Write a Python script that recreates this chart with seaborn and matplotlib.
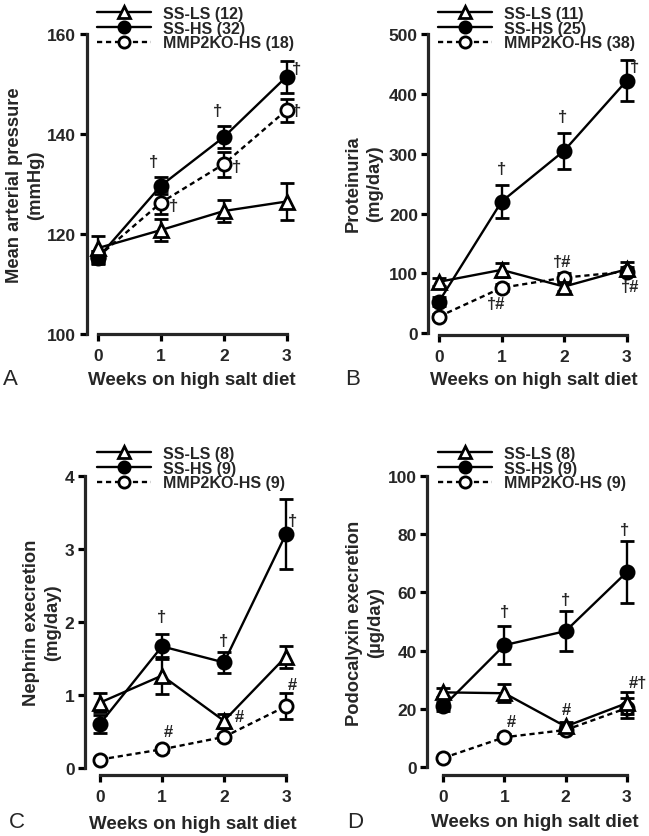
import numpy as np
import pandas as pd
import matplotlib
matplotlib.use("Agg")
import matplotlib.pyplot as plt
import seaborn as sns

# ---------------- data ----------------
weeks = [0, 1, 2, 3]
groups = ["SS-LS", "SS-HS", "MMP2KO-HS"]

# Panel A: mean arterial pressure (mmHg)
map_ls = [117.2, 120.8, 124.6, 126.5]
map_ls_err = [2.5, 2.2, 2.2, 3.7]
map_hs = [115.3, 129.7, 139.4, 151.5]
map_hs_err = [1.3, 1.7, 2.2, 3.2]
map_ko = [115.5, 126.3, 134.0, 144.8]
map_ko_err = [1.2, 2.3, 2.5, 2.3]
map_n = [12, 32, 18]

# Panel B: proteinuria (mg/day)
prot_ls = [86, 106, 78, 107]
prot_ls_err = [7, 12, 8, 12]
prot_hs = [53, 220, 305, 422]
prot_hs_err = [8, 27, 30, 34]
prot_ko = [28, 76, 93, 103]
prot_ko_err = [4, 6, 8, 8]
prot_n = [11, 25, 38]

# Panel C: nephrin excretion (mg/day)
neph_ls = [0.90, 1.27, 0.65, 1.53]
neph_ls_err = [0.13, 0.25, 0.10, 0.15]
neph_hs = [0.61, 1.67, 1.45, 3.21]
neph_hs_err = [0.12, 0.17, 0.14, 0.48]
neph_ko = [0.12, 0.26, 0.43, 0.85]
neph_ko_err = [0.02, 0.03, 0.04, 0.18]
neph_n = [8, 9, 9]

# Panel D: podocalyxin excretion (ug/day)
podo_ls = [25.7, 25.4, 14.0, 22.0]
podo_ls_err = [1.5, 3.0, 1.5, 3.8]
podo_hs = [20.9, 41.9, 46.7, 66.9]
podo_hs_err = [1.5, 6.4, 6.8, 10.6]
podo_ko = [3.2, 10.3, 12.8, 20.3]
podo_ko_err = [0.5, 1.0, 1.2, 3.5]
podo_n = [8, 9, 9]

# significance marks: (series index, week, text)
marks_a = [(1, 1, "†"), (1, 2, "†"), (1, 3, "†"), (2, 1, "†"), (2, 2, "†"), (2, 3, "†")]
marks_b = [(1, 1, "†"), (1, 2, "†"), (1, 3, "†"), (2, 1, "†#"), (2, 2, "†#"), (2, 3, "†#")]
marks_c = [(1, 1, "†"), (1, 2, "†"), (1, 3, "†"), (2, 1, "#"), (2, 2, "#"), (2, 3, "#")]
marks_d = [(1, 1, "†"), (1, 2, "†"), (1, 3, "†"), (2, 1, "#"), (0, 2, "#"), (0, 3, "#†")]

# ---------------- style ----------------
sns.set_style("ticks")
plt.rcParams["font.family"] = ["Liberation Sans", "DejaVu Sans"]
plt.rcParams["font.weight"] = "bold"
plt.rcParams["axes.labelweight"] = "bold"

W, H = 649, 837
fig = plt.figure(figsize=(W / 100, H / 100), dpi=100)

series_style = [
    dict(marker="^", markerfacecolor="white", linestyle="-", markersize=10, z=4.5),
    dict(marker="o", markerfacecolor="black", linestyle="-", markersize=9.5, z=3.5),
    dict(marker="o", markerfacecolor="white", linestyle=(0, (2.2, 1.6)), markersize=9.5, z=2.5),
]

# mark offsets in pixels (dx, dy) relative to the point, per panel, same order as marks
offs_a = [(-8, 24), (-6, 26), (10, 8), (12, -3), (13, -3), (10, -1)]
offs_b = [(0, 33), (-2, 34), (8, 14), (-5, -16), (-2, 16), (3, -15)]
offs_c = [(0, 30), (0, 22), (7, 13), (6, 18), (15, 20), (6, 22)]
offs_d = [(0, 34), (0, 32), (-2, 43), (7, 16), (1, 17), (11, 21)]


def make_axes(spine_x, t0, t3, ytop, ybot, ylo, yhi, xright=3.25):
    scale = (t3 - t0) / 3.0
    xl = (spine_x - t0) / scale
    width = (xright - xl) * scale
    ax = fig.add_axes([spine_x / W, (H - ybot) / H, width / W, (ybot - ytop) / H])
    ax.set_xlim(xl, xright)
    ax.set_ylim(ylo, yhi)
    return ax


def draw_panel(ax, vals, errs, ns, marks, offs, yticks, outward_px,
               leg_xy, ylabel, ylab_xy, xlab_xy, letter, letter_xy):
    for i, (v, e) in enumerate(zip(vals, errs)):
        st = series_style[i]
        ax.errorbar(weeks, v, yerr=e, fmt="none", ecolor="black", elinewidth=1.7,
                    capsize=5, capthick=2.0, zorder=st["z"] - 0.3, clip_on=False)
        df = pd.DataFrame({"week": weeks, "value": v})
        sns.lineplot(data=df, x="week", y="value", ax=ax, color="black",
                     marker=st["marker"], markersize=st["markersize"],
                     markerfacecolor=st["markerfacecolor"], markeredgecolor="black",
                     markeredgewidth=2.0, linewidth=1.7, linestyle=st["linestyle"],
                     errorbar=None, label=f"{groups[i]} ({ns[i]})",
                     zorder=st["z"], clip_on=False)
    for (si, wk, txt), (dx, dy) in zip(marks, offs):
        ax.annotate(txt, xy=(wk, vals[si][wk]), xytext=(dx * 0.72, dy * 0.72),
                    textcoords="offset points", ha="center", va="center",
                    fontsize=12, fontweight="bold", annotation_clip=False, zorder=6)
    sns.despine(ax=ax)
    ax.set_xticks(weeks)
    ax.set_yticks(yticks)
    ax.set_yticklabels([f"{t:g}" for t in yticks])
    ax.spines["left"].set_bounds(yticks[0], yticks[-1])
    ax.spines["bottom"].set_bounds(0, 3)
    ax.spines["bottom"].set_position(("outward", outward_px * 0.72))
    for s in ("left", "bottom"):
        ax.spines[s].set_linewidth(2.3)
    ax.tick_params(axis="both", width=2.3, length=5, labelsize=12.5, color="black")
    ax.tick_params(axis="y", pad=2.5)
    ax.tick_params(axis="x", pad=5)
    ax.set_xlabel("")
    ax.set_ylabel("")
    handles, labels = ax.get_legend_handles_labels()
    ax.legend(handles, labels, loc="upper left",
              bbox_to_anchor=(leg_xy[0] / W, 1 - leg_xy[1] / H),
              bbox_transform=fig.transFigure, frameon=False, fontsize=11.5,
              handlelength=3.4, handletextpad=0.75, labelspacing=-0.02,
              borderpad=0, borderaxespad=0, numpoints=1, markerscale=0.85)
    fig.text(ylab_xy[0] / W, 1 - ylab_xy[1] / H, ylabel, rotation=90, ha="center",
             va="center", multialignment="center", fontsize=13.2, fontweight="bold",
             linespacing=1.35)
    fig.text(xlab_xy[0] / W, 1 - xlab_xy[1] / H, "Weeks on high salt diet",
             ha="center", va="center", fontsize=13.5, fontweight="bold")
    fig.text(letter_xy[0] / W, 1 - letter_xy[1] / H, letter, ha="left", va="center",
             fontsize=16, fontweight="normal")


ax_a = make_axes(86.7, 98.3, 286.7, 35, 335, 100, 160)
draw_panel(ax_a, [map_ls, map_hs, map_ko], [map_ls_err, map_hs_err, map_ko_err], map_n,
           marks_a, offs_a, [100, 120, 140, 160], 0, (97, 7),
           "Mean arterial pressure\n(mmHg)", (25, 185), (192, 381), "A", (3, 380))

ax_b = make_axes(428.3, 439, 626.7, 35, 334.3, 0, 500)
draw_panel(ax_b, [prot_ls, prot_hs, prot_ko], [prot_ls_err, prot_hs_err, prot_ko_err], prot_n,
           marks_b, offs_b, [0, 100, 200, 300, 400, 500], 2, (438, 7),
           "Proteinuria\n(mg/day)", (364, 184), (534, 381), "B", (345, 380))

ax_c = make_axes(85, 100, 286, 477.3, 769.3, 0, 4)
draw_panel(ax_c, [neph_ls, neph_hs, neph_ko], [neph_ls_err, neph_hs_err, neph_ko_err], neph_n,
           marks_c, offs_c, [0, 1, 2, 3, 4], 7, (97, 447),
           "Nephrin execretion\n(mg/day)", (42, 623), (193, 825), "C", (9, 823))

ax_d = make_axes(427.3, 443.3, 626.7, 476.7, 768.3, 0, 100)
draw_panel(ax_d, [podo_ls, podo_hs, podo_ko], [podo_ls_err, podo_hs_err, podo_ko_err], podo_n,
           marks_d, offs_d, [0, 20, 40, 60, 80, 100], 8, (438, 447),
           "Podocalyxin execretion\n(µg/day)", (365, 623), (535, 823), "D", (347, 823))

fig.savefig("out.png", dpi=100)
